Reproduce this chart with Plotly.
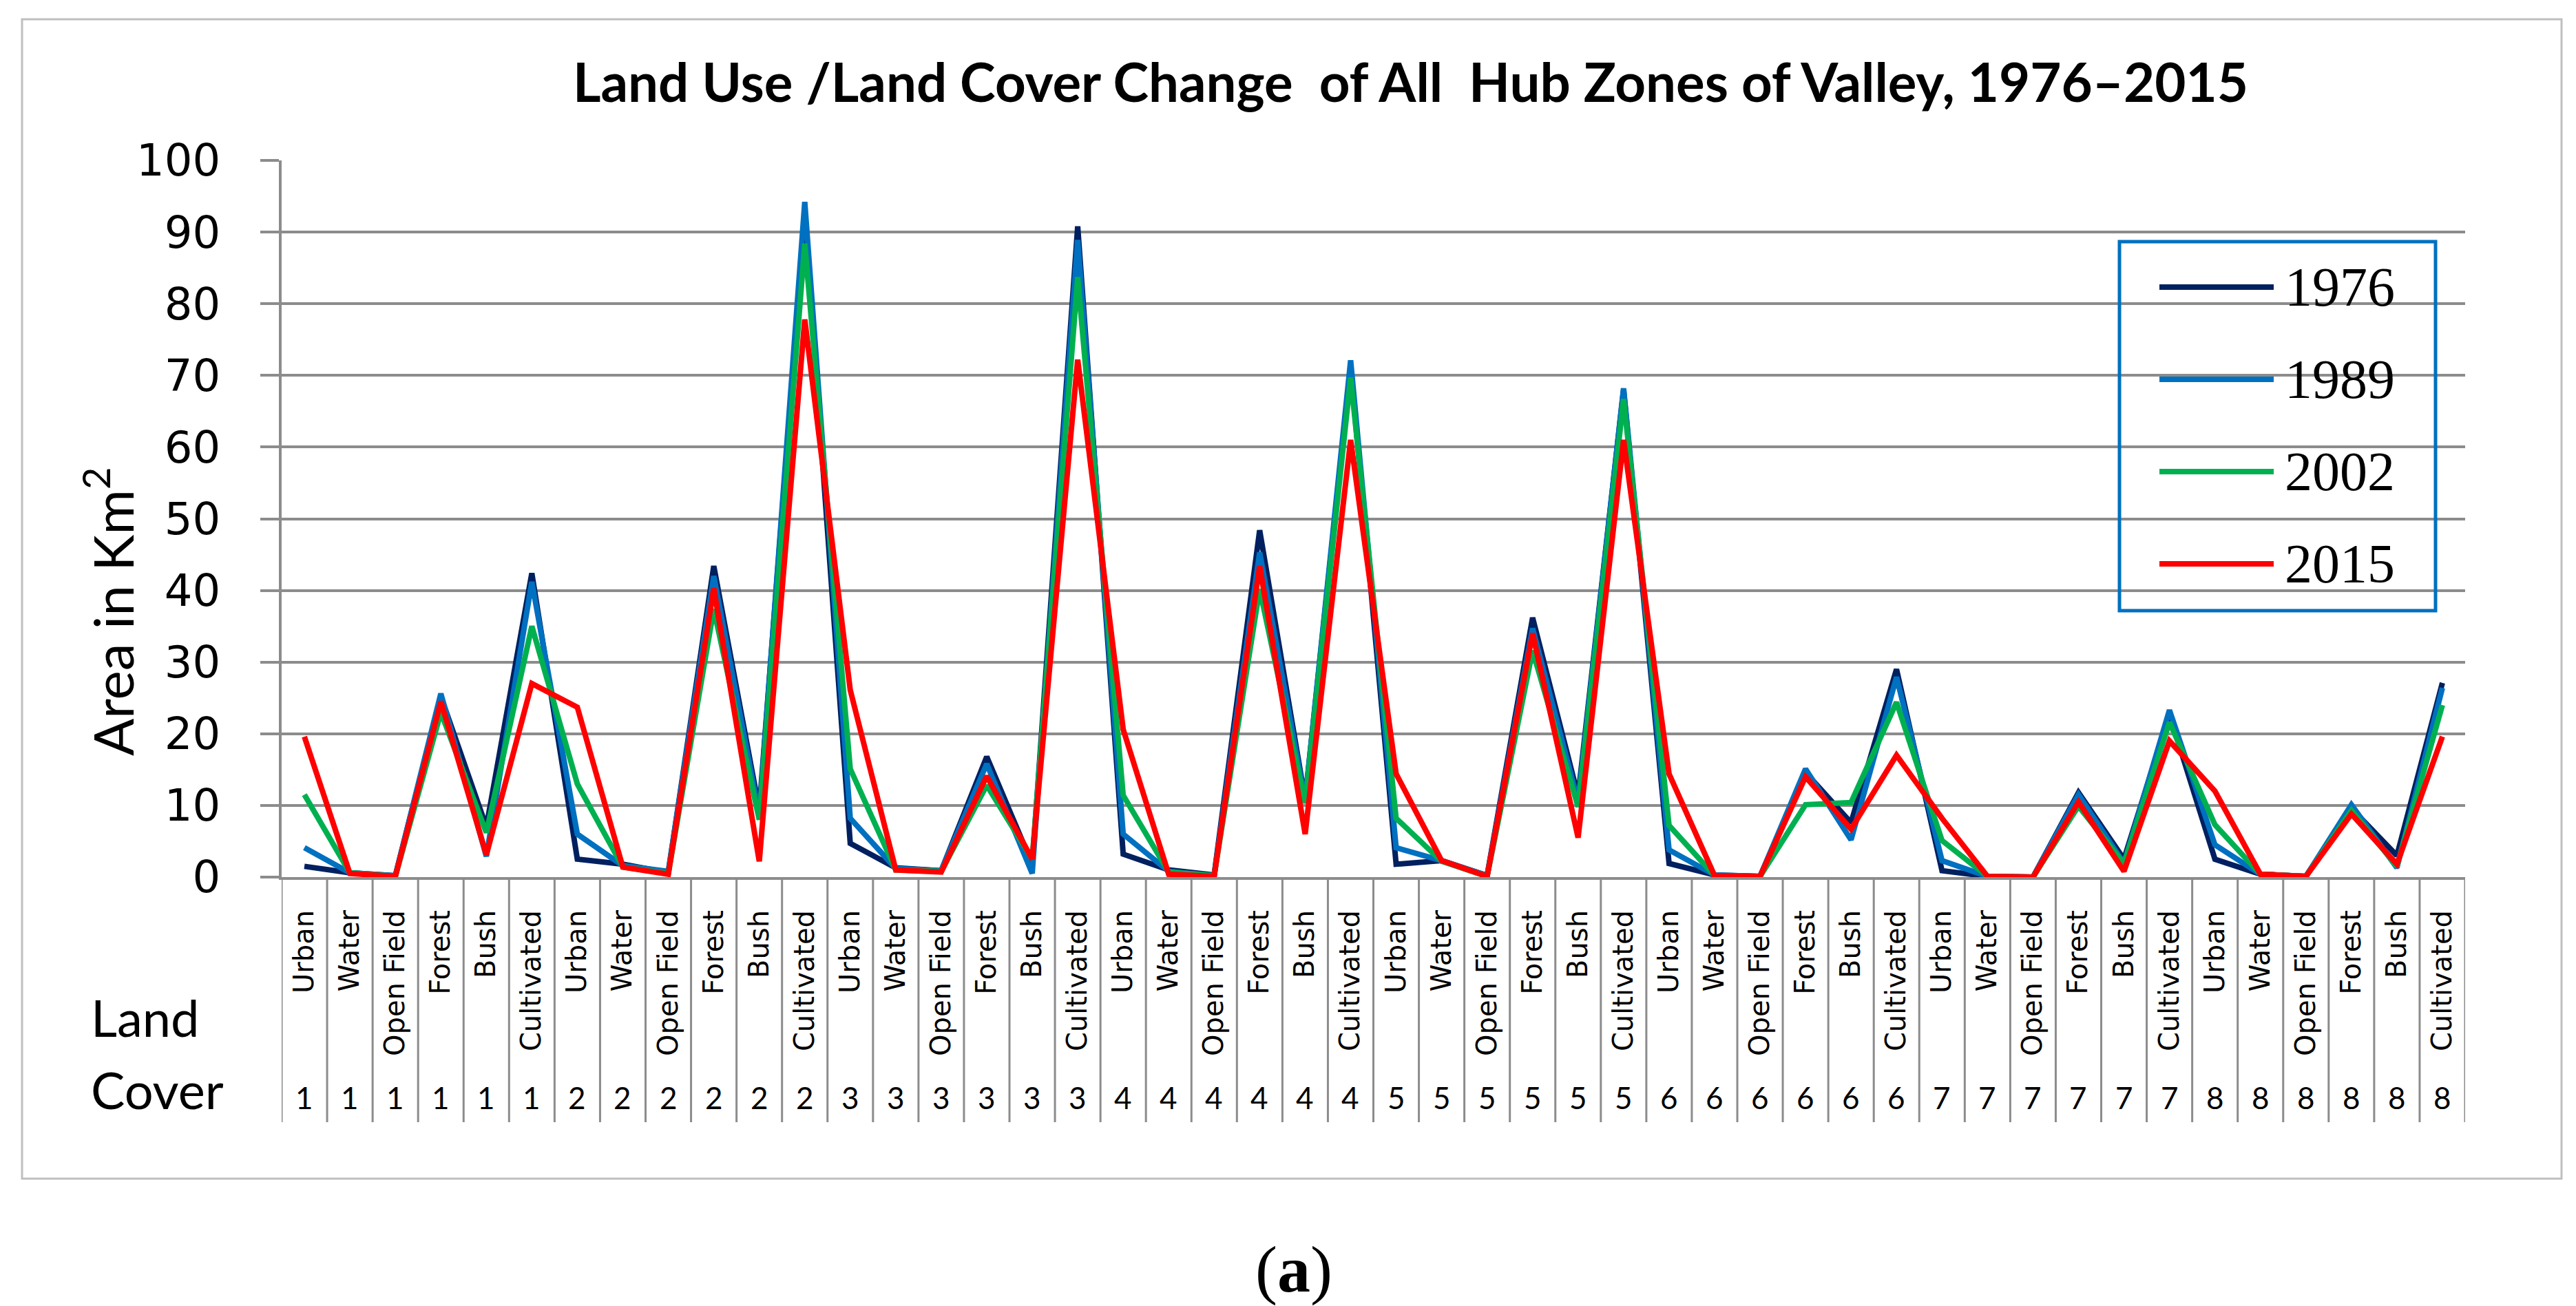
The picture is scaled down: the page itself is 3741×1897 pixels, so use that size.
import plotly.graph_objects as go

# ---------------- data ----------------
land_covers = ["Urban", "Water", "Open Field", "Forest", "Bush", "Cultivated"]
hub_zones = ["1", "2", "3", "4", "5", "6", "7", "8"]
years = ["1976", "1989", "2002", "2015"]
colors = ["#002060", "#0070C0", "#00B050", "#FF0000"]
y_ticks = [0, 10, 20, 30, 40, 50, 60, 70, 80, 90, 100]

area_1976 = [1.5, 0.6, 0.2, 25.2, 7.0, 42.4,
             2.5, 1.8, 0.6, 43.4, 9.4, 92.0,
             4.7, 1.3, 0.9, 16.8, 1.8, 90.8,
             3.2, 1.0, 0.3, 48.4, 10.8, 71.0,
             1.8, 2.3, 0.2, 36.2, 11.3, 68.0,
             1.9, 0.3, 0.1, 14.6, 7.6, 29.0,
             0.9, 0.1, 0.0, 11.8, 2.5, 22.7,
             2.5, 0.4, 0.1, 9.6, 3.0, 27.1]
area_1989 = [4.1, 0.6, 0.2, 25.6, 2.9, 41.2,
             6.0, 1.6, 0.8, 42.0, 8.6, 94.2,
             8.2, 1.2, 0.9, 15.8, 0.5, 88.9,
             6.0, 0.8, 0.2, 45.3, 10.6, 72.1,
             4.1, 2.3, 0.2, 34.7, 10.5, 68.2,
             3.8, 0.3, 0.1, 15.1, 5.2, 27.9,
             2.3, 0.1, 0.0, 11.5, 1.9, 23.3,
             4.5, 0.4, 0.1, 10.1, 1.3, 26.4]
area_2002 = [11.5, 0.6, 0.1, 23.0, 6.2, 35.0,
             13.0, 1.4, 0.5, 37.4, 8.0, 88.4,
             15.1, 1.0, 0.8, 12.8, 2.5, 83.7,
             11.4, 0.7, 0.2, 40.2, 10.3, 69.7,
             8.2, 2.2, 0.1, 31.6, 9.8, 66.7,
             7.2, 0.2, 0.1, 10.1, 10.4, 24.4,
             5.1, 0.1, 0.0, 9.9, 1.9, 21.6,
             7.3, 0.4, 0.1, 9.3, 1.5, 24.0]
area_2015 = [19.6, 0.5, 0.1, 24.5, 3.1, 27.0,
             23.7, 1.4, 0.4, 40.3, 2.2, 77.8,
             26.1, 1.0, 0.7, 14.1, 2.5, 72.2,
             20.6, 0.4, 0.1, 43.4, 6.0, 61.0,
             14.4, 2.3, 0.1, 34.0, 5.5, 61.0,
             14.4, 0.2, 0.1, 14.0, 6.7, 17.0,
             8.2, 0.1, 0.0, 10.5, 0.8, 19.0,
             12.0, 0.4, 0.1, 8.8, 1.8, 19.6]

series = [area_1976, area_1989, area_2002, area_2015]

category_labels = [lc for _ in hub_zones for lc in land_covers]
category_zones = [z for z in hub_zones for _ in land_covers]
n_cat = len(category_labels)
x_idx = list(range(n_cat))

# ---------------- geometry helpers ----------------
W_FIG, H_FIG = 3741, 1897
L, R, T, B = 401, 169, 225, 631
PW = W_FIG - L - R
PH = H_FIG - T - B


def px(X):
    return (X - L) / PW


def py(Y):
    return (H_FIG - B - Y) / PH


GRID = "#8C8C8C"

fig = go.Figure()
for name, vals, col in zip(years, series, colors):
    fig.add_trace(go.Scatter(
        x=x_idx, y=vals, mode="lines", name=name,
        line=dict(color=col, width=8), showlegend=False,
        cliponaxis=False,
    ))

shapes = []
# category divider lines below the axis
for i in range(n_cat + 1):
    shapes.append(dict(type="line", xref="x", yref="paper",
                       x0=i - 0.5, x1=i - 0.5, y0=0, y1=py(1622),
                       line=dict(color=GRID, width=3)))
# outer chart border
shapes.append(dict(type="rect", xref="paper", yref="paper",
                   x0=px(24), x1=px(3712), y0=py(20), y1=py(1704),
                   line=dict(color="#BFBFBF", width=3), layer="below"))
# legend box
shapes.append(dict(type="rect", xref="paper", yref="paper",
                   x0=px(3070), x1=px(3529), y0=py(343), y1=py(879),
                   line=dict(color="#0070C0", width=5)))

annotations = []
for k, (name, col) in enumerate(zip(years, colors)):
    yy = 409 + k * 134
    shapes.append(dict(type="line", xref="paper", yref="paper",
                       x0=px(3128), x1=px(3294), y0=py(yy), y1=py(yy),
                       line=dict(color=col, width=8)))
    annotations.append(dict(xref="paper", yref="paper", x=px(3308), y=py(yy),
                            xanchor="left", yanchor="middle", showarrow=False,
                            text=name,
                            font=dict(family="Liberation Serif", size=80, color="black")))

# zone numbers under each category
for i, z in enumerate(category_zones):
    annotations.append(dict(xref="x", yref="paper", x=i, y=py(1586),
                            xanchor="center", yanchor="middle", showarrow=False,
                            text=z, font=dict(family="Lato", size=44, color="black")))

# "Land Cover" label
annotations.append(dict(xref="paper", yref="paper", x=px(122), y=py(1470),
                        xanchor="left", yanchor="middle", showarrow=False,
                        text="Land", font=dict(family="Lato", size=74, color="black")))
annotations.append(dict(xref="paper", yref="paper", x=px(122), y=py(1574),
                        xanchor="left", yanchor="middle", showarrow=False,
                        text="Cover", font=dict(family="Lato", size=74, color="black")))

# y axis title
annotations.append(dict(xref="paper", yref="paper", x=px(150), y=py(880),
                        xanchor="center", yanchor="middle", showarrow=False,
                        textangle=-90, text="Area in Km<sup>2</sup>",
                        font=dict(family="Lato", size=80, color="black")))

# title
annotations.append(dict(xref="paper", yref="paper", x=px(2040), y=py(110),
                        xanchor="center", yanchor="middle", showarrow=False,
                        text="<b>Land Use /Land Cover Change  of All  Hub Zones of Valley, 1976\u20132015</b>",
                        font=dict(family="Lato", size=78, color="black")))

# sub-figure label
annotations.append(dict(xref="paper", yref="paper", x=px(1871), y=py(1835),
                        xanchor="center", yanchor="middle", showarrow=False,
                        text="(<b>a</b>)",
                        font=dict(family="Liberation Serif", size=96, color="black")))

fig.update_layout(
    width=W_FIG, height=H_FIG,
    margin=dict(l=L, r=R, t=T, b=B),
    paper_bgcolor="white", plot_bgcolor="white",
    shapes=shapes, annotations=annotations,
    showlegend=False,
    xaxis=dict(
        range=[-0.5, n_cat - 0.5],
        tickmode="array", tickvals=x_idx, ticktext=category_labels,
        tickangle=-90, ticks="", showgrid=False, zeroline=False,
        showline=True, linecolor=GRID, linewidth=4,
        tickfont=dict(family="DejaVu Sans", size=40, color="black"),
        ticklabelstandoff=28,
    ),
    yaxis=dict(
        range=[0, 100], tickmode="array", tickvals=y_ticks,
        showgrid=True, gridcolor=GRID, gridwidth=4, zeroline=False,
        showline=True, linecolor=GRID, linewidth=4,
        ticks="outside", ticklen=27, tickwidth=4, tickcolor=GRID,
        tickfont=dict(family="DejaVu Sans", size=64, color="black"),
        ticklabelstandoff=45,
    ),
)

fig.write_html("out.html")
